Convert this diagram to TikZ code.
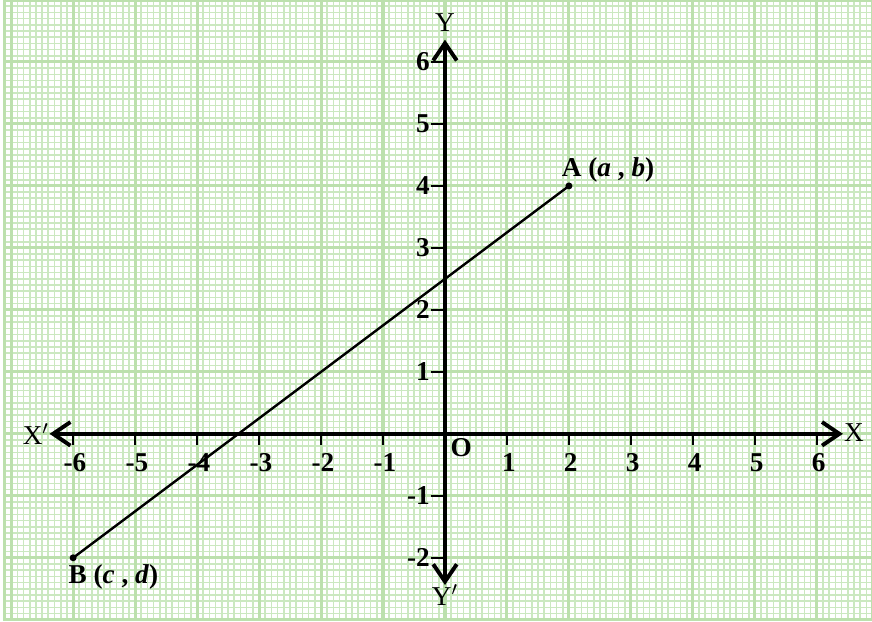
\documentclass[tikz,border=0pt]{standalone}
\usepackage{fontspec}
\setmainfont{Liberation Serif}
\usetikzlibrary{arrows.meta,calc}
\definecolor{gminor}{RGB}{203,232,192}
\definecolor{gmajor}{RGB}{188,224,173}
\begin{document}
\begin{tikzpicture}[x=1cm,y=1cm,
  font=\fontsize{12.5}{14}\selectfont,
  minorgrid/.style={gminor, line width=0.75pt},
  majorgrid/.style={gmajor, line width=1.4pt},
  axisline/.style={line width=1.8pt, {Straight Barb[length=2.8mm,width=3.8mm]}-{Straight Barb[length=2.8mm,width=3.8mm]}},
  tickline/.style={line width=1.1pt},
  numlab/.style={inner sep=0.5pt, font=\fontsize{12.5}{14}\selectfont\bfseries},
  axlab/.style={inner sep=0pt},
  seg/.style={line width=1.1pt},
  dotmark/.style={fill=black}
]
\useasboundingbox[fill=white] (-7.18,-3.02) rectangle (6.89,7.0);
% graph paper
\draw[minorgrid] (-7.1,-3) grid[step=0.1] (6.9,7);
\draw[majorgrid] (-7.1,-3) grid[step=1] (6.9,7);
\draw[majorgrid] (-7.1,-3) rectangle (6.9,7);
% axes
\coordinate (xl) at (-6.38,0);
\coordinate (xr) at (6.42,0);
\coordinate (yt) at (0,6.36);
\coordinate (yb) at (0,-2.44);
\coordinate (O) at (0,0);
\draw[axisline] (xl) -- (xr);
\draw[axisline] (yb) -- (yt);
% ticks on x axis
\foreach \x in {-6,-5,-4,-3,-2,-1,1,2,3,4,5,6} {
  \coordinate (xa\x) at (\x,0);
  \coordinate (xb\x) at (\x,-0.18);
  \draw[tickline] (xa\x) -- (xb\x);
  \node[numlab] (xt\x) at (\x+0.03,-0.46) {\x};
}
% ticks on y axis
\foreach \y in {-2,-1,1,2,3,4,5,6} {
  \coordinate (ya\y) at (0,\y);
  \coordinate (yc\y) at (-0.22,\y);
  \draw[tickline] (ya\y) -- (yc\y);
  \node[numlab, anchor=east] (yt\y) at (yc\y) {\y};
}
% axis names
\node[axlab] (X) at (6.6,0.02) {X};
\node[axlab] (Xp) at (-6.6,0.0) {X$'$};
\node[axlab] (Y) at (0,6.63) {Y};
\node[axlab] (Yp) at (0,-2.6) {Y$'$};
\node[numlab] (Olab) at (0.26,-0.23) {O};
% segment AB
\coordinate (A) at (2,4);
\coordinate (B) at (-6,-2);
\draw[seg] (B) -- (A);
\fill[dotmark] (A) circle (1.6pt);
\fill[dotmark] (B) circle (1.6pt);
\node[numlab, anchor=south west, inner sep=0pt] (Alab) at ($(A)+(-0.12,0.05)$) {A (\textit{a} , \textit{b})};
\node[numlab, anchor=north west, inner sep=0pt] (Blab) at ($(B)+(-0.08,-0.1)$) {B (\textit{c} , \textit{d})};
\end{tikzpicture}
\end{document}
